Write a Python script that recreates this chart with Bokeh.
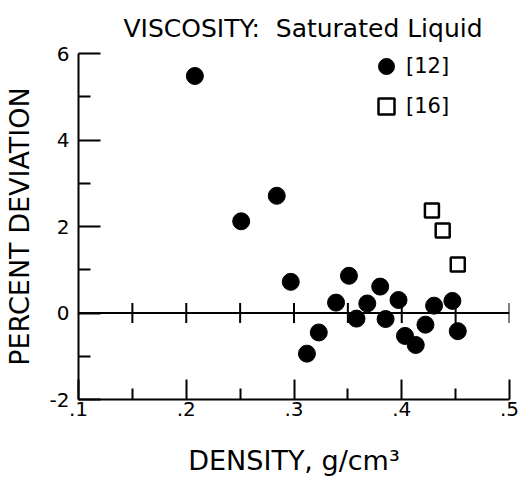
import math
from bokeh.plotting import figure
from bokeh.models import FixedTicker, Span, Legend, LegendItem, Range1d
from bokeh.embed import file_html
from bokeh.resources import INLINE

# ---- data ----
density_12 = [0.208, 0.251, 0.284, 0.297, 0.312, 0.323, 0.339, 0.351, 0.358, 0.368,
              0.380, 0.385, 0.397, 0.403, 0.413, 0.422, 0.430, 0.447, 0.452]
deviation_12 = [5.48, 2.12, 2.71, 0.72, -0.94, -0.45, 0.24, 0.86, -0.13, 0.22,
                0.61, -0.14, 0.30, -0.53, -0.74, -0.27, 0.17, 0.28, -0.42]
density_16 = [0.428, 0.438, 0.452]
deviation_16 = [2.37, 1.91, 1.12]

x_major = [0.1, 0.2, 0.3, 0.4, 0.5]
x_major_labels = [".1", ".2", ".3", ".4", ".5"]
x_minor = [0.15, 0.25, 0.35, 0.45]
y_major = [-2, 0, 2, 4, 6]
y_major_labels = ["-2", "0", "2", "4", "6"]
y_minor = [-1, 1, 3, 5]
series_labels = ["[12]", "[16]"]

FONT = "DejaVu Sans"

p = figure(width=523, height=478, x_range=Range1d(0.1, 0.5), y_range=Range1d(-2, 6),
           output_backend="svg", toolbar_location=None,
           min_border_left=78, min_border_right=14, min_border_top=53, min_border_bottom=77)
p.grid.visible = False
p.outline_line_color = None
p.background_fill_color = "white"

# title
p.title.text = "VISCOSITY:\u00a0 Saturated Liquid"
p.title.text_font = FONT
p.title.text_font_size = "25px"
p.title.text_font_style = "normal"
p.title.text_color = "black"
p.title.align = "left"
p.title.offset = 45
p.title.standoff = 22

# axes
xa = p.xaxis[0]
xa.ticker = FixedTicker(ticks=x_major, minor_ticks=x_minor)
xa.major_label_overrides = dict(zip(x_major, x_major_labels))
xa.axis_label = "DENSITY, g/cm\u00b3"
ya = p.yaxis[0]
ya.ticker = FixedTicker(ticks=y_major, minor_ticks=y_minor)
ya.major_label_overrides = dict(zip(y_major, y_major_labels))
ya.axis_label = "PERCENT DEVIATION"

for ax in (xa, ya):
    ax.axis_line_width = 2
    ax.axis_line_color = "black"
    ax.major_tick_line_width = 2
    ax.minor_tick_line_width = 2
    ax.major_tick_line_color = "black"
    ax.minor_tick_line_color = "black"
    ax.major_tick_out = 0
    ax.minor_tick_out = 0
    ax.major_label_text_font = FONT
    ax.major_label_text_font_size = "20px"
    ax.major_label_text_color = "black"
    ax.axis_label_text_font = FONT
    ax.axis_label_text_font_size = "27px"
    ax.axis_label_text_font_style = "normal"
    ax.axis_label_text_color = "black"

xa.major_tick_in = 20
xa.minor_tick_in = 11
xa.major_label_standoff = 2
xa.axis_label_standoff = 26
ya.major_tick_in = 22
ya.minor_tick_in = 12
ya.major_label_standoff = 9
ya.axis_label_standoff = 12

# zero line with crossing ticks
p.add_layout(Span(location=0, dimension="width", line_color="black", line_width=2))
zero_ticks = sorted(x_major[1:] + x_minor)
p.scatter(zero_ticks, [0] * len(zero_ticks), marker="dash", angle=math.pi / 2, size=20,
          line_color="black", line_width=2)

r12 = p.scatter(density_12, deviation_12, marker="circle", size=17,
                fill_color="black", line_color="black")
r16 = p.scatter(density_16, deviation_16, marker="square", size=14,
                fill_color="white", line_color="black", line_width=2.5)

legend = Legend(items=[LegendItem(label=series_labels[0], renderers=[r12]),
                       LegendItem(label=series_labels[1], renderers=[r16])],
                location=(288, 273), glyph_width=40, glyph_height=40,
                label_standoff=0, padding=0, margin=0, spacing=0,
                border_line_color=None, background_fill_alpha=0,
                label_text_font=FONT, label_text_font_size="21px",
                label_text_color="black")
p.add_layout(legend)

open("out.html", "w").write(file_html(p, INLINE))
